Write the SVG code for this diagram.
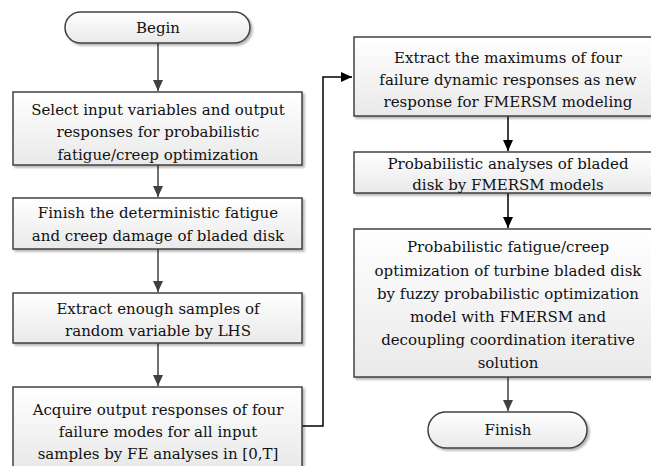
<svg xmlns="http://www.w3.org/2000/svg" width="651" height="466" viewBox="0 0 651 466">
  <defs>
    <linearGradient id="boxFill" x1="0" y1="0" x2="0" y2="1">
      <stop offset="0" stop-color="#ffffff"/>
      <stop offset="1" stop-color="#e9e9e9"/>
    </linearGradient>
    <filter id="shadow" x="-5%" y="-5%" width="115%" height="120%">
      <feGaussianBlur in="SourceAlpha" stdDeviation="1"/>
      <feOffset dx="2" dy="2" result="off"/>
      <feComponentTransfer><feFuncA type="linear" slope="0.3"/></feComponentTransfer>
      <feMerge><feMergeNode/><feMergeNode in="SourceGraphic"/></feMerge>
    </filter>
    <marker id="headGray" markerWidth="12" markerHeight="12" refX="11" refY="5" orient="auto" markerUnits="userSpaceOnUse">
      <path d="M0,0 L11,5 L0,10 Z" fill="#404040"/>
    </marker>
    <marker id="headBlack" markerWidth="12" markerHeight="12" refX="11" refY="5" orient="auto" markerUnits="userSpaceOnUse">
      <path d="M0,0 L11,5 L0,10 Z" fill="#000000"/>
    </marker>
  </defs>
  <style>
    .box { fill: url(#boxFill); stroke: #404040; stroke-width: 1.5; filter: url(#shadow); }
    text { font-family: 'DejaVu Serif', serif; font-size: 15px; fill: #111; text-anchor: middle; }
    .gray { stroke: #404040; stroke-width: 1.5; fill: none; marker-end: url(#headGray); }
    .black { stroke: #000; stroke-width: 1.5; fill: none; marker-end: url(#headBlack); }
  </style>
  <rect width="651" height="466" fill="#ffffff"/>

  <g id="connectors">
    <line class="gray" x1="158" y1="43" x2="158" y2="91"/>
    <line class="gray" x1="158" y1="165" x2="158" y2="197"/>
    <line class="gray" x1="158" y1="249" x2="158" y2="292"/>
    <line class="gray" x1="158" y1="343" x2="158" y2="386"/>
    <polyline class="black" points="302,426 323,426 323,77 352,77"/>
    <line class="black" x1="508" y1="116" x2="508" y2="151"/>
    <line class="black" x1="508" y1="193" x2="508" y2="228"/>
    <line class="gray" x1="508" y1="377" x2="508" y2="411"/>
  </g>

  <g id="begin">
    <rect class="box" x="65" y="12" width="185" height="31" rx="15.5"/>
    <text x="158" y="33">Begin</text>
  </g>

  <g id="select-variables">
    <rect class="box" x="13" y="92" width="289" height="73"/>
    <text x="158" y="115">Select input variables and output</text>
    <text x="158" y="137">responses for probabilistic</text>
    <text x="158" y="160">fatigue/creep optimization</text>
  </g>

  <g id="deterministic-damage">
    <rect class="box" x="13" y="198" width="289" height="51"/>
    <text x="158" y="218">Finish the deterministic fatigue</text>
    <text x="158" y="241">and creep damage of bladed disk</text>
  </g>

  <g id="lhs-samples">
    <rect class="box" x="13" y="293" width="289" height="50"/>
    <text x="158" y="314">Extract enough samples of</text>
    <text x="158" y="336">random variable by LHS</text>
  </g>

  <g id="fe-analyses">
    <rect class="box" x="13" y="387" width="289" height="80"/>
    <text x="158" y="415">Acquire output responses of four</text>
    <text x="158" y="437">failure modes  for all input</text>
    <text x="158" y="459">samples by FE analyses in [0,T]</text>
  </g>

  <g id="extract-maximums">
    <rect class="box" x="354" y="37" width="310" height="79"/>
    <text x="508" y="63">Extract the maximums of four</text>
    <text x="508" y="85">failure dynamic responses as new</text>
    <text x="508" y="107">response for FMERSM modeling</text>
  </g>

  <g id="probabilistic-analyses">
    <rect class="box" x="354" y="152" width="310" height="41"/>
    <text x="508" y="169">Probabilistic analyses of bladed</text>
    <text x="508" y="190">disk by FMERSM models</text>
  </g>

  <g id="optimization">
    <rect class="box" x="354" y="229" width="310" height="148"/>
    <text x="508" y="252">Probabilistic fatigue/creep</text>
    <text x="508" y="276">optimization of turbine bladed disk</text>
    <text x="508" y="299">by fuzzy probabilistic optimization</text>
    <text x="508" y="322">model with FMERSM and</text>
    <text x="508" y="345">decoupling coordination iterative</text>
    <text x="508" y="368">solution</text>
  </g>

  <g id="finish">
    <rect class="box" x="428" y="412" width="159" height="36" rx="18"/>
    <text x="508" y="435">Finish</text>
  </g>
</svg>
